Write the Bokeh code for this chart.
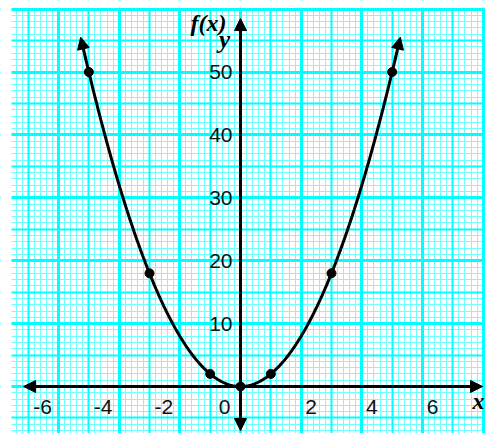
import numpy as np
from bokeh.plotting import figure
from bokeh.models import Grid, FixedTicker, Arrow, NormalHead, BoxAnnotation, Range1d
from bokeh.core.properties import value
from bokeh.embed import file_html
from bokeh.resources import INLINE

# data: f(x) = 2x^2 sample points
pts_x = [-5, -3, -1, 0, 1, 3, 5]
pts_y = [50, 18, 2, 0, 2, 18, 50]
x_tick_values = [-6, -4, -2, 0, 2, 4, 6]
x_tick_labels = ["-6", "-4", "-2", "0", "2", "4", "6"]
y_tick_values = [10, 20, 30, 40, 50]
y_tick_labels = ["10", "20", "30", "40", "50"]

X0, X1 = -7.913, 8.078
Y0, Y1 = -7.47, 61.37

p = figure(width=485, height=433, x_range=Range1d(X0, X1), y_range=Range1d(Y0, Y1),
           output_backend="svg", toolbar_location=None, min_border=0)
p.axis.visible = False
p.xgrid.visible = False
p.ygrid.visible = False
p.outline_line_color = None
p.background_fill_color = "white"
p.border_fill_color = "white"

# graph-paper grid
def add_grid(dim, ticks, color, width):
    g = Grid(dimension=dim, ticker=FixedTicker(ticks=list(ticks)),
             grid_line_color=color, grid_line_width=width)
    p.add_layout(g)

add_grid(0, np.round(np.arange(-7.4, 8.2, 0.2), 2), "#70ffff", 1)
add_grid(1, np.arange(-7, 61, 1), "#70ffff", 1)
add_grid(0, np.arange(-7, 9, 1), "#00ffff", 2)
add_grid(1, np.arange(-5, 61, 5), "#00ffff", 2)
add_grid(0, np.arange(-6, 9, 2), "#00ffff", 3)
add_grid(1, np.arange(0, 61, 10), "#00ffff", 3)

p.add_layout(BoxAnnotation(right=-7.55, fill_color="white", fill_alpha=1, line_alpha=0, level="underlay"))
p.add_layout(BoxAnnotation(bottom=60.2, fill_color="white", fill_alpha=1, line_alpha=0, level="underlay"))

# axes with arrows
p.add_layout(Arrow(x_start=-7.15, y_start=0, x_end=7.98, y_end=0, line_width=3, line_color="black",
                   start=NormalHead(size=12, fill_color="black", line_color="black"),
                   end=NormalHead(size=12, fill_color="black", line_color="black")))
p.add_layout(Arrow(x_start=0, y_start=-7.0, x_end=0, y_end=58.5, line_width=3, line_color="black",
                   start=NormalHead(size=12, fill_color="black", line_color="black"),
                   end=NormalHead(size=12, fill_color="black", line_color="black")))

# curve through the points (quadratic fit of the read points)
coef = np.polyfit(pts_x, pts_y, 2)
xs = np.linspace(-5.12, 5.12, 300)
p.line(xs, np.polyval(coef, xs), line_width=3, line_color="black")
for s in (-1, 1):
    xa, xb = s * 5.1, s * 5.27
    p.add_layout(Arrow(x_start=xa, y_start=np.polyval(coef, xa), x_end=xb, y_end=np.polyval(coef, xb),
                       line_width=3, line_color="black",
                       end=NormalHead(size=12, fill_color="black", line_color="black")))

p.scatter(pts_x, pts_y, size=9, color="black")

# tick labels
xoff = [-16 if v <= 0 else 10 for v in x_tick_values]
p.text(x=x_tick_values, y=[0] * len(x_tick_values), text=x_tick_labels, x_offset=xoff, y_offset=20,
       text_align="center", text_baseline="middle", text_font=value("Liberation Sans"),
       text_font_size="21px", text_color="#111111")
p.text(x=[0] * len(y_tick_values), y=y_tick_values, text=y_tick_labels, x_offset=-8, y_offset=0,
       text_align="right", text_baseline="middle", text_font=value("Liberation Sans"),
       text_font_size="21px", text_color="#111111")

# axis names
p.text(x=[0], y=[Y1], text=["f(x)"], x_offset=-32, y_offset=22, text_align="center",
       text_baseline="middle", text_font=value("Liberation Serif"), text_font_style="bold italic",
       text_font_size="24px", text_color="black")
p.text(x=[0], y=[Y1], text=["y"], x_offset=-16, y_offset=39, text_align="center",
       text_baseline="middle", text_font=value("Liberation Serif"), text_font_style="bold italic",
       text_font_size="25px", text_color="black")
p.text(x=[X1], y=[0], text=["x"], x_offset=-7, y_offset=14, text_align="center",
       text_baseline="middle", text_font=value("Liberation Serif"), text_font_style="bold italic",
       text_font_size="24px", text_color="black")

open("out.html", "w").write(file_html(p, INLINE))
